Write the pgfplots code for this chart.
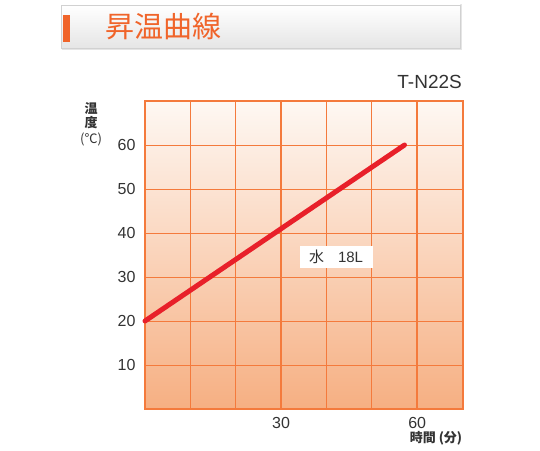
\documentclass[border=0pt]{standalone}
\usepackage{fontspec}
\setmainfont{Liberation Sans}
\newfontfamily\jp{Noto Sans CJK JP}
\usepackage{pgfplots}
\pgfplotsset{compat=1.18}
\definecolor{gridor}{HTML}{F47A3C}
\definecolor{bgtop}{HTML}{FEF8F3}
\definecolor{bgbot}{HTML}{F6AF82}
\definecolor{redline}{HTML}{E8202A}
\definecolor{titleor}{HTML}{F0642A}
\definecolor{txt}{HTML}{333333}
\begin{document}
\begin{tikzpicture}[x=1pt,y=1pt]
% canvas: 1 px of the reference = 1 pt, y measured upward
\path (0pt,0pt) rectangle (540pt,450pt);
% title banner
\fill[black!10] (62pt,400pt) rectangle (462pt,446pt);
\shade[top color=white, bottom color=black!10, draw=black!18] (61pt,402pt) rectangle (460pt,445pt);
\fill[titleor] (63pt,408pt) rectangle (70pt,435pt);
\node[anchor=west, text=titleor, font=\jp\fontsize{29}{32}\selectfont, inner sep=0] at (105pt,423.5pt) {昇温曲線};
% model name
\node[anchor=east, text=txt, font=\fontsize{19}{21}\selectfont, inner sep=0] at (462pt,368pt) {T-N22S};
\begin{axis}[
  at={(145pt,41pt)}, anchor=south west,
  scale only axis, width=317.6pt, height=308pt,
  xmin=0, xmax=70, ymin=0, ymax=70,
  axis background/.style={top color=bgtop, bottom color=bgbot},
  xtick={30,60}, minor xtick={10,20,40,50},
  ytick={10,20,...,60},
  grid=both,
  major x grid style={gridor, line width=2pt},
  minor x grid style={gridor, line width=1pt},
  major y grid style={gridor, line width=1pt},
  axis line style={gridor, line width=2pt},
  major tick length=0pt, minor tick length=0pt,
  tick style={draw=none},
  ticklabel style={text=txt, font=\fontsize{16}{18}\selectfont},
  /pgf/number format/assume math mode=true,
  xticklabel style={anchor=center, yshift=-14pt},
  yticklabel style={anchor=east, xshift=-6pt},
  clip=false,
]
\addplot[redline, line width=5pt, line cap=round] coordinates {(0,20) (57.2,60)};
\node[fill=white, text=txt, font=\fontsize{15}{17}\selectfont, minimum width=73pt, minimum height=22pt, inner sep=0] at (axis cs:42.1,34.6) {{\jp 水}\hspace{14pt}18L};
\end{axis}
% axis titles
\node[text=txt, font=\jp\fontsize{13}{15}\selectfont\bfseries, inner sep=0] at (91pt,342pt) {温};
\node[text=txt, font=\jp\fontsize{13}{15}\selectfont\bfseries, inner sep=0] at (91pt,327pt) {度};
\node[text=txt, font=\jp\fontsize{13}{15}\selectfont, inner sep=0] at (91pt,311pt) {(℃)};
\node[text=txt, font=\jp\fontsize{13}{15}\selectfont\bfseries, inner sep=0] at (436pt,11.5pt) {時間 (分)};
\end{tikzpicture}
\end{document}
